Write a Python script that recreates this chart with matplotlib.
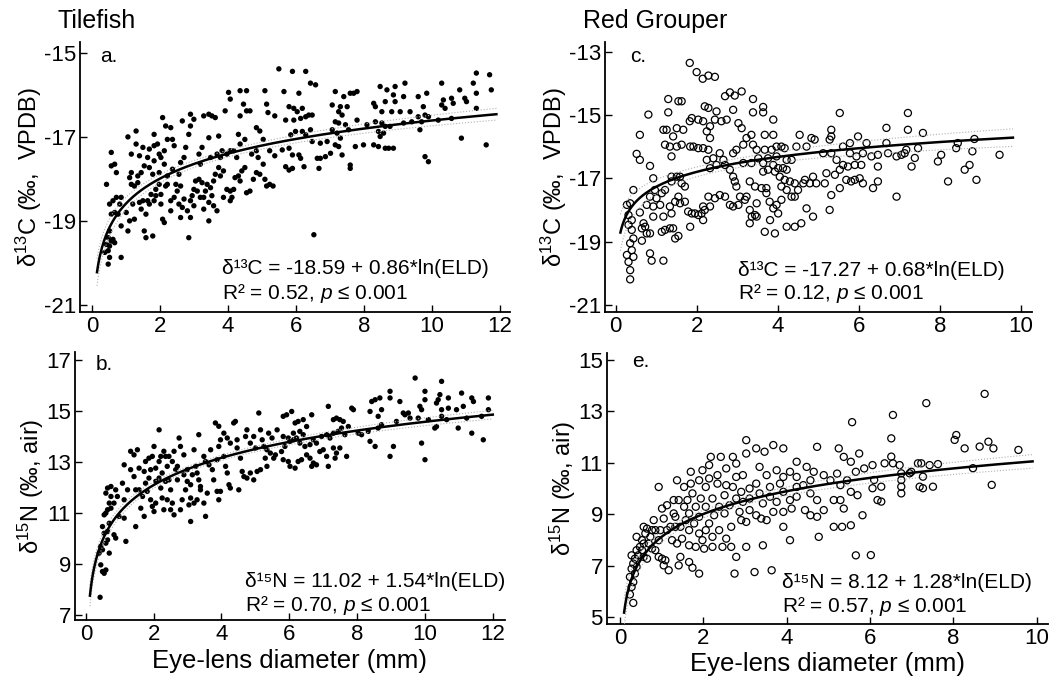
import numpy as np
import matplotlib
matplotlib.use("Agg")
import matplotlib.pyplot as plt

plt.rcParams['font.family'] = ['Liberation Sans', 'DejaVu Sans']
plt.rcParams['mathtext.fontset'] = 'custom'
plt.rcParams['mathtext.rm'] = 'Liberation Sans'
plt.rcParams['mathtext.it'] = 'Liberation Sans:italic'
plt.rcParams['mathtext.bf'] = 'Liberation Sans:bold'
plt.rcParams['axes.unicode_minus'] = False

# ---------------- data ----------------
# Tilefish d13C (panel a): (eye-lens diameter mm, d13C)
tile_c13 = [
(0.52,-19.24),(0.48,-19.40),(0.57,-19.48),(0.43,-19.56),(0.52,-19.60),(0.62,-19.44),(0.67,-19.52),
(0.48,-19.71),(0.38,-19.75),(0.52,-19.87),(0.48,-20.03),(0.86,-19.87),(0.57,-18.84),(0.67,-18.80),
(0.52,-18.60),(0.62,-18.52),(0.72,-18.44),(0.43,-18.13),(0.57,-17.69),(0.67,-17.65),(0.72,-17.85),
(0.57,-17.37),(0.77,-18.84),(0.86,-19.12),(1.01,-18.80),(0.82,-18.60),(0.86,-18.44),(1.20,-18.60),
(1.25,-18.96),(1.11,-19.00),(1.06,-19.24),(1.16,-18.13),(1.11,-17.97),(1.25,-18.17),(1.35,-18.09),
(1.40,-18.56),(1.45,-18.72),(1.50,-18.52),(1.54,-19.24),(1.59,-19.40),(1.64,-18.52),(1.59,-18.84),
(1.69,-18.60),(1.83,-18.52),(1.74,-18.37),(1.88,-18.40),(1.79,-19.36),(2.03,-18.37),(1.98,-18.13),
(1.88,-18.25),(2.08,-18.96),(2.13,-19.04),(2.17,-18.17),(2.22,-18.13),(2.03,-18.60),(2.32,-18.52),
(2.42,-18.44),(2.51,-18.29),(2.47,-18.13),(2.61,-18.17),(2.56,-18.60),(2.66,-18.68),(2.71,-18.48),
(2.81,-18.76),(2.90,-18.52),(2.95,-18.40),(3.00,-18.25),(3.10,-18.29),(3.05,-18.05),(3.15,-18.01),
(3.24,-18.09),(3.29,-18.44),(3.34,-18.29),(3.39,-18.13),(3.49,-18.21),(3.53,-18.40),(3.44,-19.00),
(3.68,-18.76),(3.58,-18.05),(3.63,-17.89),(3.73,-17.73),(3.78,-17.93),(3.87,-17.81),(3.97,-18.25),
(4.07,-18.29),(4.12,-18.44),(4.17,-18.25),(4.21,-17.97),(4.31,-17.93),(4.36,-18.05),(4.41,-17.81),
(4.50,-17.73),(4.55,-18.33),(4.65,-18.29),(4.75,-18.01),(4.84,-17.85),(4.94,-17.89),(5.09,-18.01),
(5.14,-18.17),(5.23,-18.13),(5.33,-18.17),(2.85,-19.40),
(1.06,-17.00),(1.30,-16.86),(1.16,-17.41),(1.40,-17.45),(1.30,-17.17),(1.50,-17.25),(1.69,-17.29),
(1.83,-16.94),(1.83,-17.21),(1.64,-17.49),(1.93,-17.17),(1.98,-17.41),(2.08,-16.54),(2.17,-16.74),
(2.22,-17.06),(2.37,-17.06),(2.32,-16.78),(2.42,-17.21),(2.66,-16.62),(2.71,-17.49),(2.61,-17.61),
(2.76,-17.25),(2.85,-16.94),(2.90,-16.74),(2.90,-16.46),(3.00,-16.58),(3.19,-17.65),(3.15,-17.41),
(3.24,-17.25),(3.29,-16.50),(3.44,-16.46),(3.53,-16.50),(3.63,-16.54),(3.73,-16.98),(3.68,-17.41),
(3.78,-17.49),(3.83,-17.33),(3.92,-16.38),(3.97,-17.41),(4.07,-17.33),(4.17,-17.33),(4.02,-15.94),
(4.07,-16.10),(4.36,-15.90),(4.55,-15.90),(4.46,-16.22),(4.55,-16.38),(4.65,-16.38),(4.36,-16.50),
(4.31,-16.94),(4.50,-17.06),(4.84,-16.78),(4.94,-16.86),(5.04,-17.06),(5.09,-15.90),(5.14,-16.22),
(5.18,-16.42),(5.38,-16.50),(5.23,-17.33),(5.38,-17.45),(4.84,-17.33),(4.89,-17.49),(5.04,-17.65),
(4.70,-17.41),(4.36,-17.17),(4.26,-17.49),(3.44,-17.02),(3.49,-17.49),(2.56,-17.89),(2.37,-17.77),
(2.13,-17.65),(2.22,-17.93),(1.98,-17.85),(1.79,-17.89),(1.69,-17.73),(1.54,-17.69),(1.45,-17.85),
(1.35,-17.93),(1.16,-17.85),(2.32,-18.76),(2.61,-18.92),(2.90,-18.92),(3.00,-18.64),(3.19,-18.44),
(3.29,-18.72),(3.44,-18.56),(3.58,-18.64),(3.87,-18.44),(4.07,-18.52),(2.03,-17.49),(1.83,-17.57),
(2.13,-17.33),(5.50,-15.38),
(5.65,-15.92),(5.90,-15.44),(6.09,-15.96),(6.29,-15.44),(6.43,-15.72),(6.58,-15.76),(5.80,-16.28),
(5.94,-16.32),(6.04,-16.40),(6.19,-16.32),(6.14,-16.56),(6.29,-16.52),(6.38,-16.48),(6.48,-16.48),
(5.70,-16.60),(5.94,-16.60),(5.85,-16.95),(5.99,-16.87),(6.19,-16.87),(6.29,-16.95),(6.43,-16.83),
(5.60,-17.31),(5.80,-17.27),(5.90,-17.43),(6.09,-17.43),(6.14,-17.51),(5.70,-17.71),(5.80,-17.79),
(5.90,-17.75),(6.24,-17.71),(6.63,-17.51),(6.72,-17.51),(6.87,-17.47),(7.02,-17.39),(6.68,-17.75),
(6.48,-17.11),(6.72,-17.15),(6.92,-17.11),(7.07,-16.24),(7.16,-15.92),(7.31,-16.28),(7.26,-16.40),
(7.36,-16.48),(7.41,-16.04),(7.51,-16.28),(7.60,-15.96),(7.70,-15.96),(7.80,-15.92),(7.16,-16.64),
(7.26,-16.67),(7.07,-16.83),(7.21,-16.91),(7.31,-17.03),(7.46,-16.71),(7.55,-16.83),(7.80,-16.60),
(7.16,-17.19),(7.26,-17.23),(7.36,-17.43),(7.60,-17.67),(7.60,-17.75),(7.75,-17.23),(7.99,-17.19),
(8.29,-17.19),(8.43,-17.23),(8.63,-17.27),(8.73,-17.27),(8.87,-17.27),(8.48,-15.80),(8.68,-15.88),
(8.92,-15.80),(9.21,-15.72),(8.87,-16.00),(8.92,-16.16),(8.63,-16.16),(8.53,-16.40),(8.29,-16.20),
(8.34,-16.28),(8.82,-16.40),(9.07,-16.40),(9.17,-16.04),(9.36,-16.40),(9.60,-16.04),(9.85,-15.96),
(9.75,-16.28),(9.80,-16.48),(9.60,-16.52),(10.29,-15.72),(10.34,-16.12),(10.29,-16.24),(10.39,-16.32),
(10.58,-16.08),(10.63,-16.20),(10.82,-15.88),(10.97,-16.08),(11.02,-16.16),(11.22,-15.72),(11.31,-15.48),
(11.31,-15.96),(11.70,-15.52),(11.75,-15.88),(11.31,-16.32),(8.09,-16.71),(8.34,-16.64),(8.53,-16.67),
(8.63,-16.75),(8.77,-16.75),(9.17,-16.67),(9.41,-16.64),(9.70,-16.64),(9.90,-16.52),(10.19,-16.60),
(10.58,-16.56),(8.43,-16.87),(8.58,-16.91),(8.48,-16.99),(9.65,-16.83),(9.80,-17.47),(9.90,-17.59),
(10.87,-17.03),(11.60,-17.19),(6.53,-19.33),
]

# Tilefish d15N (panel b)
tile_n15 = [
(0.42,7.69),(0.49,8.70),(0.59,8.76),(0.44,8.96),(0.54,8.63),(0.39,9.42),(0.49,9.55),(0.69,9.42),
(0.44,9.68),(0.59,9.81),(0.64,9.94),(0.54,10.20),(0.64,10.27),(0.69,10.59),(0.49,10.46),(0.83,10.14),
(0.88,10.01),(1.18,9.88),(0.59,10.99),(0.64,11.12),(0.74,11.18),(0.69,11.38),(0.54,10.92),(0.83,11.38),
(0.93,11.64),(0.74,11.64),(0.59,11.77),(0.64,11.97),(0.88,11.90),(0.74,12.03),(1.08,12.16),(1.13,11.51),
(1.23,11.90),(1.13,10.79),(0.98,10.86),(1.47,10.46),(1.13,12.88),(1.32,13.41),(1.42,13.27),(1.52,13.47),
(1.32,12.69),(1.42,12.42),(1.47,11.90),(1.57,11.90),(1.62,11.18),(1.72,10.86),(1.67,11.64),(1.81,11.84),
(1.76,12.16),(1.86,12.36),(1.91,12.69),(1.86,13.14),(1.96,13.21),(2.01,13.60),(2.16,14.25),(2.16,13.01),
(2.25,12.56),(2.30,13.41),(2.35,13.21),(2.40,12.82),(2.45,12.29),(2.50,11.90),(2.55,11.38),(2.60,10.92),
(2.30,11.12),(2.06,11.38),(1.96,11.25),(2.01,11.05),(1.91,11.51),(2.06,12.23),(2.16,12.36),(2.35,12.23),
(2.55,13.01),(2.60,13.41),(2.70,12.82),(2.75,13.93),(2.79,13.60),(2.89,13.27),(2.89,12.49),(2.99,12.23),
(2.94,11.90),(3.09,12.10),(3.09,11.58),(3.04,11.31),(3.09,10.66),(3.19,13.47),(3.24,12.82),(3.28,12.56),
(3.33,12.29),(3.38,12.03),(3.19,11.38),(3.38,11.90),(3.53,10.86),(3.33,14.06),(3.48,13.21),(3.53,13.01),
(3.63,12.88),(3.68,13.47),(3.73,12.69),(3.77,12.29),(3.87,11.84),(3.92,11.51),(3.97,11.84),(3.58,11.77),
(3.87,13.08),(3.92,13.60),(3.97,13.86),(4.07,13.21),(4.12,12.82),(4.17,12.56),(4.26,11.97),(4.22,12.10),
(3.82,14.52),(3.92,14.39),(4.07,14.12),(4.17,13.93),(4.26,13.73),(4.36,14.52),(4.41,14.58),(4.46,13.86),
(4.46,13.54),(4.56,13.14),(4.61,12.62),(4.66,12.42),(4.75,12.36),(4.85,12.56),(4.95,12.29),(5.05,12.62),
(4.51,11.90),(4.71,13.99),(4.75,14.25),(4.85,13.73),(4.95,13.99),(5.00,13.54),(5.10,14.91),(5.15,14.25),
(5.20,13.86),(5.25,13.60),(5.34,13.47),(5.39,14.12),(5.44,13.34),(5.49,13.93),(5.54,13.14),(5.64,14.25),
(5.59,13.27),(5.34,12.82),(5.15,12.69),(5.29,13.14),
(2.70,12.29),(2.84,11.51),(2.79,11.12),(2.65,12.69),(2.45,13.21),(2.21,13.21),(1.72,12.62),(1.76,13.01),
(1.57,12.75),(2.06,12.75),(2.21,11.97),(2.40,11.51),(2.50,11.12),(2.25,11.58),(3.28,11.51),(3.48,11.38),
(3.14,12.49),(2.99,12.69),
(5.82,14.78),(5.92,14.84),(6.07,14.97),(6.17,14.52),(6.26,14.58),(6.41,14.65),(6.51,14.38),(6.66,14.84),
(6.31,14.19),(6.41,14.06),(6.12,14.12),(5.97,13.93),(5.82,13.99),(5.77,13.40),(5.87,13.60),(6.02,13.80),
(6.12,13.86),(6.21,13.93),(6.31,13.73),(6.46,13.60),(6.61,13.67),(6.71,13.86),(6.80,13.73),(6.95,13.99),
(7.10,14.06),(7.20,13.93),(7.30,14.12),(7.44,14.19),(7.54,14.32),(7.64,14.06),(7.74,14.38),(7.15,15.17),
(7.30,14.65),(7.39,14.71),(7.49,14.65),(7.59,14.58),(7.84,15.10),(7.89,15.04),(5.82,13.08),(5.97,13.01),
(6.02,12.82),(6.17,12.75),(6.26,13.01),(6.36,13.08),(6.51,13.27),(6.61,13.14),(6.71,12.95),(6.80,12.88),
(6.66,12.82),(6.90,13.40),(7.00,13.47),(7.10,13.21),(7.15,12.82),(7.30,13.54),(7.39,13.34),(7.49,13.54),
(7.35,13.14),(7.69,13.21),(8.03,14.12),(8.13,14.06),(8.33,14.19),(8.38,14.97),(8.43,15.36),(8.53,15.43),
(8.62,14.78),(8.67,15.50),(8.72,15.04),(8.72,14.45),(8.97,15.76),(8.97,15.50),(8.62,14.32),(8.38,13.80),
(8.53,13.60),(8.97,13.21),(9.07,13.60),(9.16,14.58),(9.26,15.36),(9.36,14.91),(9.41,14.84),(9.51,14.91),
(9.56,14.71),(9.71,16.28),(9.80,14.71),(9.85,15.17),(9.90,15.04),(10.00,15.76),(10.00,15.43),(9.90,13.73),
(10.00,13.08),(10.34,15.30),(10.39,15.43),(10.44,15.63),(10.49,16.15),(10.49,15.04),(10.49,14.78),
(10.69,15.50),(10.69,15.10),(10.34,14.38),(10.29,14.32),(10.98,14.32),(11.08,15.69),(11.13,15.17),
(10.93,15.04),(11.38,15.50),(11.43,15.36),(11.38,14.12),(11.72,13.86),(11.87,15.50),(11.87,15.04),
(11.67,14.78),(11.23,14.71),(10.64,14.65),(10.10,14.65),
]

# Red Grouper d13C (panel c)
grouper_c13 = [
(1.83,-13.36),(2.00,-13.65),(2.15,-13.86),(2.29,-13.76),(2.45,-13.80),(1.30,-14.50),(1.55,-14.57),
(1.63,-14.57),(1.30,-14.92),(0.81,-14.99),(0.60,-15.63),(1.18,-15.47),(1.26,-15.47),(1.22,-15.94),
(0.52,-16.23),(0.60,-16.42),(0.85,-16.61),(0.93,-17.00),(0.44,-17.37),(0.36,-17.79),(0.28,-17.84),
(0.32,-18.16),(0.40,-18.32),(0.60,-18.08),(0.69,-18.42),(0.65,-18.58),(0.73,-18.53),(0.77,-18.74),
(0.85,-18.74),(0.32,-18.47),(0.40,-18.63),(0.44,-18.90),(0.36,-19.05),(0.40,-19.27),(0.44,-19.48),
(0.32,-19.64),(0.28,-19.42),(0.36,-19.90),(0.36,-20.19),(0.85,-19.37),(0.89,-19.60),(1.18,-19.60),
(0.65,-18.97),(0.93,-17.89),(1.01,-17.63),(1.10,-17.84),(1.18,-18.21),(1.14,-18.69),(1.22,-18.63),
(1.34,-18.58),(1.42,-18.58),(1.47,-18.90),(1.55,-18.82),(1.34,-17.89),(1.38,-18.11),(1.47,-17.74),
(0.93,-18.21),(0.77,-17.84),(0.85,-17.58),(0.97,-17.37),(1.14,-17.47),(1.22,-17.37),(1.38,-17.10),
(1.38,-16.95),(1.51,-16.95),(1.59,-16.95),(1.63,-17.16),(1.71,-17.26),(1.55,-17.58),(1.59,-17.79),
(1.71,-17.74),(1.79,-18.05),(1.88,-18.11),(1.84,-18.53),(1.96,-18.11),(2.04,-18.16),(2.12,-18.11),
(2.16,-18.32),(2.20,-18.00),(2.16,-17.89),(2.33,-17.89),(2.29,-17.58),(2.45,-17.63),(2.57,-17.53),
(2.70,-17.58),(2.82,-17.84),(3.03,-17.84),(2.90,-17.89),(3.19,-17.68),(3.23,-17.58),(3.07,-17.58),
(2.98,-17.26),(2.94,-17.10),(2.90,-16.95),(2.82,-16.73),(2.66,-16.42),(2.57,-16.21),(2.70,-16.58),
(2.49,-16.58),(2.41,-16.37),(2.33,-16.68),(2.25,-16.42),(2.29,-16.10),(2.33,-15.73),(2.25,-15.52),
(2.16,-16.05),(2.04,-16.05),(1.92,-16.00),(1.84,-16.00),(1.63,-15.94),(1.51,-16.00),(1.38,-16.31),
(1.34,-16.00),(1.42,-15.68),(1.51,-15.42),(1.67,-15.47),(1.83,-15.20),(1.88,-15.10),(2.04,-15.15),
(2.20,-14.73),(2.29,-14.78),(2.16,-15.20),(2.33,-15.36),(2.45,-15.15),(2.49,-14.89),(2.61,-15.20),
(2.74,-15.15),(2.90,-14.84),(2.70,-14.41),(2.82,-14.29),(2.94,-14.39),(3.11,-14.26),(3.39,-14.50),
(3.39,-14.92),(3.64,-14.75),(3.64,-14.92),(3.89,-15.15),(3.03,-15.26),(3.11,-15.42),(3.35,-15.63),
(3.68,-15.63),(3.89,-15.63),(3.97,-16.00),(4.09,-16.00),(4.17,-16.05),(3.85,-16.10),(3.68,-16.10),
(3.48,-16.10),(3.39,-15.94),(3.23,-15.73),(3.15,-15.94),(2.98,-16.10),(2.90,-16.21),(3.15,-16.52),
(3.35,-16.52),(3.52,-16.37),(3.64,-16.52),(3.76,-16.37),(3.89,-16.58),(3.97,-16.31),(4.22,-16.42),
(4.34,-16.42),(4.46,-16.00),(4.54,-15.63),(4.71,-16.00),(4.83,-15.73),(4.91,-15.78),(5.12,-16.21),
(5.28,-15.78),(5.32,-16.21),(5.45,-16.42),(5.61,-16.00),(5.78,-16.21),(5.53,-14.94),(5.32,-15.47),
(5.32,-15.68),(5.98,-15.68),(6.10,-16.21),(6.19,-15.89),(3.31,-17.10),(3.44,-17.26),(3.60,-17.31),
(3.72,-17.31),(3.64,-16.79),(3.76,-16.73),(3.93,-16.79),(4.01,-16.68),(4.13,-16.68),(4.22,-16.73),
(4.05,-16.95),(4.17,-17.05),(4.30,-17.10),(4.42,-17.16),(4.50,-17.37),(4.63,-17.16),(4.67,-17.05),
(4.79,-17.16),(4.87,-16.95),(4.95,-17.16),(4.09,-17.26),(4.22,-17.37),(4.34,-17.58),(4.42,-17.58),
(3.72,-17.47),(3.80,-17.74),(3.89,-17.95),(3.97,-17.84),(4.09,-17.68),(4.01,-18.11),(3.48,-17.79),
(3.31,-18.00),(3.44,-18.16),(3.36,-18.21),(3.31,-18.42),(3.48,-18.21),(3.68,-18.69),(3.93,-18.74),
(3.81,-18.32),(4.22,-18.53),(4.42,-18.53),(4.58,-18.42),(4.71,-17.95),(4.87,-18.21),(5.16,-17.16),
(5.32,-17.53),(5.28,-18.00),(5.53,-17.31),(5.69,-17.05),(5.81,-17.10),(5.90,-17.05),(5.20,-16.84),
(5.41,-16.89),(5.53,-16.73),(5.61,-16.58),(5.73,-16.63),(5.90,-16.58),(6.06,-16.58),(6.10,-17.16),
(6.02,-17.00),(5.78,-15.89),(5.94,-16.31),
(6.31,-16.31),(6.47,-16.26),(6.47,-16.63),(6.35,-17.31),(6.47,-17.10),(6.68,-15.41),(6.68,-15.89),
(6.72,-16.21),(6.93,-16.31),(6.93,-17.58),(7.05,-16.26),(7.13,-16.21),(7.17,-16.10),(7.21,-14.94),
(7.21,-15.47),(7.30,-16.63),(7.38,-16.36),(7.46,-16.05),(7.58,-15.57),(7.95,-16.47),(8.03,-16.26),
(8.20,-17.10),(8.40,-16.05),(8.44,-15.89),(8.61,-16.73),(8.73,-16.58),(8.80,-16.15),(8.85,-15.76),
(8.90,-17.05),(9.47,-16.26),
]

# Red Grouper d15N (panel e)
grouper_n15 = [
(0.32,5.55),(0.24,5.88),(0.28,6.17),(0.32,6.36),(0.24,6.56),(0.36,6.69),(0.28,6.88),(0.40,6.95),
(0.32,7.08),(0.36,7.27),(0.28,7.40),(0.44,7.40),(0.40,7.60),(0.48,7.73),(0.57,7.86),(0.53,7.99),
(0.40,8.12),(0.61,8.25),(0.65,8.44),(0.57,8.51),(0.81,8.77),(0.73,8.12),(0.77,7.66),(0.85,7.60),
(0.93,7.34),(1.01,7.27),(1.09,7.21),(1.05,7.01),(1.17,6.82),(1.41,7.01),(1.45,7.34),(1.74,6.92),
(1.90,6.69),(1.66,7.14),(0.93,7.99),(0.97,8.38),(1.05,8.83),(1.01,9.22),(1.13,9.35),(0.93,10.06),
(1.37,10.32),(1.54,10.06),(1.29,9.55),(1.41,9.55),(1.33,8.51),(1.45,8.51),(1.58,8.77),(1.25,7.99),
(1.37,7.86),(1.49,8.05),(1.66,7.79),(1.82,7.73),(2.02,7.66),(2.22,7.73),(2.46,7.73),(2.67,7.73),
(3.03,7.73),(2.79,7.34),(2.75,6.69),(3.23,6.75),(3.64,6.82),(3.43,7.79),(4.08,7.99),(4.77,8.12),
(3.92,8.51),(1.90,8.25),(2.06,8.38),(2.14,8.64),(1.78,8.64),(1.66,9.03),(1.82,9.29),(1.94,9.61),
(1.74,9.81),(1.70,10.19),(1.90,10.32),(2.06,10.06),(2.14,10.39),(1.70,10.65),(1.98,10.71),(2.18,11.23),
(2.42,11.23),(2.71,11.23),(3.03,11.88),(3.27,11.56),(3.47,11.43),(3.68,11.69),(3.92,11.56),(4.73,11.62),
(5.25,11.56),(3.03,11.36),(2.79,10.97),(2.55,10.78),(2.34,10.52),(2.14,10.91),(2.34,10.19),(2.55,10.13),
(2.79,10.45),(2.95,10.52),(3.11,10.00),(3.27,10.19),(2.79,9.61),(2.95,9.48),(2.63,9.35),(2.38,9.29),
(2.22,9.61),(2.51,9.03),(2.87,9.09),(3.11,9.16),(3.27,8.96),(3.43,9.42),(3.60,9.68),(3.76,9.48),
(3.92,9.87),(4.08,9.55),(4.12,9.22),(4.24,9.68),(4.40,10.13),(4.57,9.81),(4.73,9.55),(4.89,9.16),
(4.73,8.90),(4.57,8.96),(4.44,9.16),(3.92,9.09),(3.68,9.09),(3.52,8.77),(3.39,8.83),(4.24,10.45),
(4.08,10.65),(3.76,10.71),(3.52,10.52),(3.35,10.84),(4.24,11.04),(4.48,10.84),(4.65,10.65),(4.89,10.52),
(5.05,10.32),(5.21,10.58),(5.37,11.23),(5.54,11.04),(5.74,11.36),(5.86,10.78),(5.66,10.65),(5.45,10.32),
(5.29,10.13),(5.13,9.55),(5.29,9.55),(5.37,9.22),(5.54,9.87),(5.70,9.74),(5.82,8.96),(5.13,8.51),
(5.33,8.51),(5.54,8.57),(5.66,7.40),(2.38,8.38),(2.67,8.51),(2.91,8.77),(3.03,8.70),(2.55,8.05),
(2.22,8.12),(1.98,7.99),(1.66,8.38),(1.54,9.29),(1.29,9.03),(1.21,8.51),(0.85,8.38),(0.69,7.86),
(0.57,7.34),(0.53,7.60),(0.65,7.27),(0.77,8.38),(1.13,8.38),(1.33,8.90),(1.62,9.55),(1.90,8.90),
(2.06,9.29),(2.26,8.96),(2.51,9.74),(2.71,10.06),(2.91,9.87),(3.11,9.61),(3.35,9.81),(3.60,10.06),
(3.84,10.19),(3.92,10.45),(4.24,10.06),(4.57,10.32),
(6.06,10.91),(6.10,10.33),(6.06,10.01),(6.18,9.55),(6.27,9.49),(6.27,10.07),(6.35,10.98),(6.51,11.24),
(6.51,11.95),(6.55,12.86),(6.55,10.98),(6.71,10.91),(6.75,10.59),(6.75,10.33),(6.75,10.07),(6.75,9.81),
(6.95,10.59),(6.99,10.65),(7.15,10.98),(7.19,10.07),(7.23,10.98),(7.27,10.46),(7.27,10.01),(7.35,13.32),
(7.43,10.91),(7.51,10.07),(7.63,10.95),(8.03,11.89),(8.07,12.08),(8.27,11.56),(8.47,10.79),(8.63,11.63),
(8.75,13.68),(8.84,11.82),(8.92,10.14),(8.96,11.56),(9.56,11.50),(6.02,7.41),(5.57,12.58),
]

# Regression equations printed on each panel: (intercept, slope of ln(ELD)), fit x-range
fit_a = (-18.59, 0.86, 0.15, 11.9)
fit_b = (11.02, 1.54, 0.12, 12.0)
fit_c = (-17.27, 0.68, 0.12, 9.8)
fit_e = (8.12, 1.28, 0.10, 9.9)

eq_a = ['δ¹³C = -18.59 + 0.86*ln(ELD)', 'R² = 0.52, $p$ ≤ 0.001']
eq_b = ['δ¹⁵N = 11.02 + 1.54*ln(ELD)', 'R² = 0.70, $p$ ≤ 0.001']
eq_c = ['δ¹³C = -17.27 + 0.68*ln(ELD)', 'R² = 0.12, $p$ ≤ 0.001']
eq_e = ['δ¹⁵N = 8.12 + 1.28*ln(ELD)', 'R² = 0.57, $p$ ≤ 0.001']

W, H = 1055, 681
fig = plt.figure(figsize=(W / 100, H / 100), dpi=100)


def fx(px):
    return px / W


def fy(py):
    return 1 - py / H


def make_ax(left, top, right, bottom):
    return fig.add_axes([fx(left), fy(bottom), fx(right) - fx(left), fy(top) - fy(bottom)])


def style(ax, xlim, ylim, xticks, yticks):
    ax.set_xlim(*xlim)
    ax.set_ylim(*ylim)
    ax.set_xticks(xticks)
    ax.set_yticks(yticks)
    for s in ['top', 'right']:
        ax.spines[s].set_visible(False)
    for s in ['left', 'bottom']:
        ax.spines[s].set_linewidth(1.3)
    ax.tick_params(direction='in', length=5, width=1.0, labelsize=16, pad=3)


def draw(ax, pts, fit, filled):
    xs = np.array([p[0] for p in pts])
    ys = np.array([p[1] for p in pts])
    if filled:
        ax.scatter(xs, ys, s=15, c='black', edgecolors='none', zorder=3)
    else:
        ax.scatter(xs, ys, s=26, facecolors='none', edgecolors='black', linewidths=0.9, zorder=3)
    a, b, x0, x1 = fit
    xg = np.linspace(x0, x1, 400)
    yg = a + b * np.log(xg)
    # 95% confidence band from the plotted points
    lx = np.log(xs)
    res = ys - (a + b * lx)
    n = len(xs)
    s = np.sqrt((res ** 2).sum() / (n - 2))
    m = lx.mean()
    sxx = ((lx - m) ** 2).sum()
    ci = 1.96 * s * np.sqrt(1.0 / n + (np.log(xg) - m) ** 2 / sxx)
    ax.plot(xg, yg + ci, color='#b0b0b0', lw=0.8, ls=':', zorder=4)
    ax.plot(xg, yg - ci, color='#b0b0b0', lw=0.8, ls=':', zorder=4)
    ax.plot(xg, yg, color='black', lw=1.8, zorder=5)


def eq_text(lines, left, base1, base2):
    fig.text(fx(left), fy(base1), lines[0], fontsize=15, va='baseline', ha='left')
    fig.text(fx(left), fy(base2), lines[1], fontsize=15, va='baseline', ha='left')


# Panel a
ax_a = make_ax(80, 42, 510, 312)
style(ax_a, (-0.35, 12.3), (-21.17, -14.74), range(0, 13, 2), [-21, -19, -17, -15])
draw(ax_a, tile_c13, fit_a, True)
ax_a.set_ylabel('δ$^{13}$C (‰,  VPDB)', fontsize=17, labelpad=0)
eq_text(eq_a, 222, 274, 299)
fig.text(fx(100), fy(62), 'a.', fontsize=15, va='baseline')

# Panel b
ax_b = make_ax(75, 352, 505, 620)
style(ax_b, (-0.32, 12.36), (6.8, 17.3), range(0, 13, 2), [7, 9, 11, 13, 15, 17])
draw(ax_b, tile_n15, fit_b, True)
ax_b.set_ylabel('δ$^{15}$N (‰, air)', fontsize=17, labelpad=0)
ax_b.set_xlabel('Eye-lens diameter (mm)', fontsize=18.5, labelpad=3)
eq_text(eq_b, 245, 587, 611)
fig.text(fx(96), fy(370), 'b.', fontsize=15, va='baseline')

# Panel c
ax_c = make_ax(605, 42, 1032, 312)
style(ax_c, (-0.26, 10.27), (-21.22, -12.7), range(0, 11, 2), [-21, -19, -17, -15, -13])
draw(ax_c, grouper_c13, fit_c, False)
ax_c.set_ylabel('δ$^{13}$C (‰,  VPDB)', fontsize=17, labelpad=0)
eq_text(eq_c, 738, 276, 299)
fig.text(fx(630), fy(62), 'c.', fontsize=15, va='baseline')

# Panel e
ax_e = make_ax(607, 353, 1048, 624)
style(ax_e, (-0.31, 10.27), (4.73, 15.27), range(0, 11, 2), [5, 7, 9, 11, 13, 15])
draw(ax_e, grouper_n15, fit_e, False)
ax_e.set_ylabel('δ$^{15}$N (‰, air)', fontsize=17, labelpad=0)
ax_e.set_xlabel('Eye-lens diameter (mm)', fontsize=18.5, labelpad=2)
eq_text(eq_e, 782, 588, 612)
fig.text(fx(632), fy(367), 'e.', fontsize=15, va='baseline')

# Species titles
fig.text(fx(58), fy(28), 'Tilefish', fontsize=18, va='baseline')
fig.text(fx(583), fy(28), 'Red Grouper', fontsize=18, va='baseline')

fig.savefig('out.png', dpi=100)
